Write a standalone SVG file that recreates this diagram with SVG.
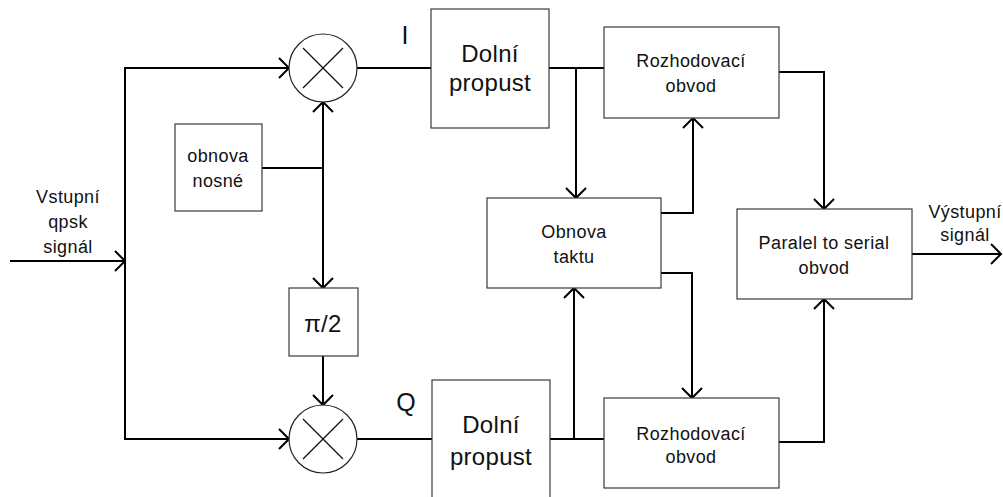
<svg xmlns="http://www.w3.org/2000/svg" width="1003" height="497" viewBox="0 0 1003 497">
<style>
.box{fill:#fff;stroke:#3a3a3a;stroke-width:1.2}
.mix{fill:#fff;stroke:#222;stroke-width:1.2}
.x{stroke:#111;stroke-width:1.3}
.c{fill:none;stroke:#000;stroke-width:2}
text{font-family:"Liberation Sans",Arial,sans-serif;fill:#111;text-anchor:middle}
.big{font-size:24px;letter-spacing:0.3px}
.med{font-size:18px;letter-spacing:0.4px}
.lbl{font-size:25px}
</style>
<defs>
<marker id="arr" viewBox="-12 -12 14 24" refX="0" refY="0" markerWidth="14" markerHeight="24" markerUnits="userSpaceOnUse" orient="auto">
<path d="M-10,-10 L0,0 L-10,10" fill="none" stroke="#000" stroke-width="2"/>
</marker>
</defs>
<g id="connectors">
<path class="c" d="M10,261 H125" marker-end="url(#arr)"/>
<path class="c" d="M125,261 V68 H289" marker-end="url(#arr)"/>
<path class="c" d="M125,261 V439 H289" marker-end="url(#arr)"/>
<path class="c" d="M262,168 H323"/>
<path class="c" d="M323,168 V102" marker-end="url(#arr)"/>
<path class="c" d="M323,168 V288" marker-end="url(#arr)"/>
<path class="c" d="M323,356 V405" marker-end="url(#arr)"/>
<path class="c" d="M357,68 H431"/>
<path class="c" d="M357,439 H432"/>
<path class="c" d="M549,68 H604"/>
<path class="c" d="M576,68 V198" marker-end="url(#arr)"/>
<path class="c" d="M550,439 H604"/>
<path class="c" d="M574,439 V288" marker-end="url(#arr)"/>
<path class="c" d="M661,213 H693 V118" marker-end="url(#arr)"/>
<path class="c" d="M661,273 H692 V398" marker-end="url(#arr)"/>
<path class="c" d="M779,72 H824 V209" marker-end="url(#arr)"/>
<path class="c" d="M779,442 H824 V299" marker-end="url(#arr)"/>
<path class="c" d="M912,254 H1001" marker-end="url(#arr)"/>
</g>
<g id="input-label">
<text class="med" x="68" y="203">Vstupní</text>
<text class="med" x="68" y="228">qpsk</text>
<text class="med" x="68" y="253">signál</text>
</g>
<g id="output-label">
<text class="med" x="965" y="218">Výstupní</text>
<text class="med" x="965" y="241">signál</text>
</g>
<g id="mixer-i">
<circle class="mix" cx="323" cy="68" r="34"/>
<line class="x" x1="303" y1="48" x2="343" y2="88"/>
<line class="x" x1="343" y1="48" x2="303" y2="88"/>
</g>
<g id="mixer-q">
<circle class="mix" cx="323" cy="439" r="34"/>
<line class="x" x1="303" y1="419" x2="343" y2="459"/>
<line class="x" x1="343" y1="419" x2="303" y2="459"/>
</g>
<g id="label-i"><text class="lbl" x="405" y="44">I</text></g>
<g id="label-q"><text class="lbl" x="406" y="411">Q</text></g>
<g id="obnova-nosne">
<rect class="box" x="175" y="124" width="87" height="87"/>
<text class="med" x="218" y="162">obnova</text>
<text class="med" x="218" y="187">nosné</text>
</g>
<g id="phase-shift">
<rect class="box" x="289" y="288" width="69" height="68"/>
<text class="big" x="323" y="332">π/2</text>
</g>
<g id="dolni-propust-i">
<rect class="box" x="431" y="9" width="118" height="119"/>
<text class="big" x="490" y="62">Dolní</text>
<text class="big" x="490" y="91">propust</text>
</g>
<g id="dolni-propust-q">
<rect class="box" x="432" y="380" width="118" height="130"/>
<text class="big" x="491" y="433">Dolní</text>
<text class="big" x="491" y="465">propust</text>
</g>
<g id="rozhodovaci-i">
<rect class="box" x="604" y="27" width="175" height="91"/>
<text class="med" x="691" y="67">Rozhodovací</text>
<text class="med" x="691" y="92">obvod</text>
</g>
<g id="rozhodovaci-q">
<rect class="box" x="604" y="398" width="175" height="90"/>
<text class="med" x="691" y="440">Rozhodovací</text>
<text class="med" x="691" y="463">obvod</text>
</g>
<g id="obnova-taktu">
<rect class="box" x="487" y="198" width="174" height="90"/>
<text class="med" x="574" y="238">Obnova</text>
<text class="med" x="574" y="263">taktu</text>
</g>
<g id="paralel-serial">
<rect class="box" x="737" y="209" width="175" height="90"/>
<text class="med" x="824" y="249">Paralel to serial</text>
<text class="med" x="824" y="274">obvod</text>
</g>
</svg>
